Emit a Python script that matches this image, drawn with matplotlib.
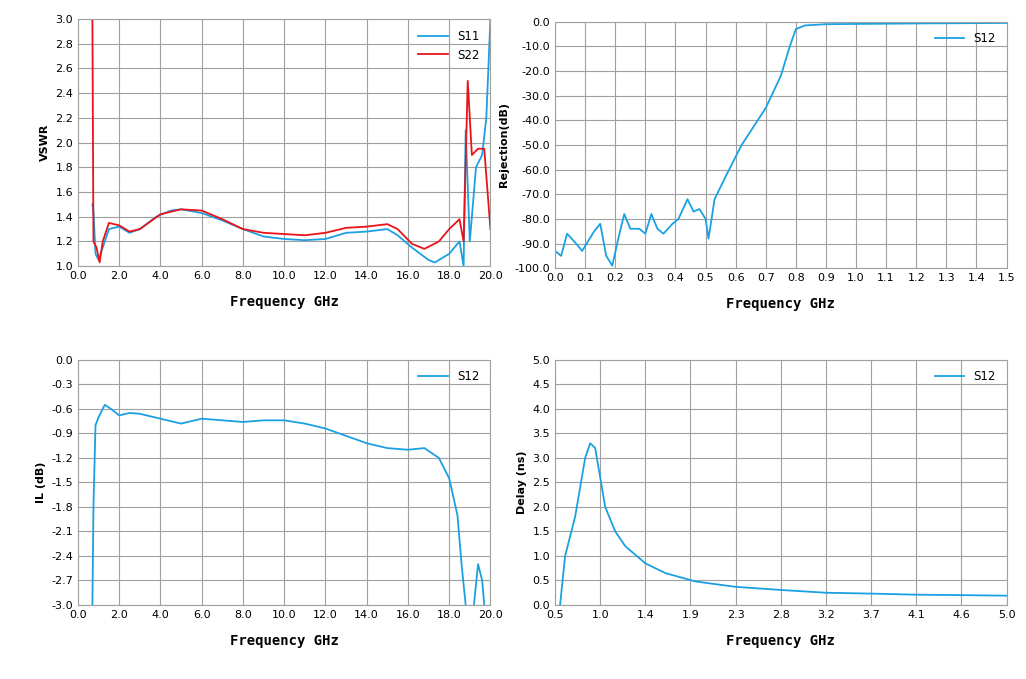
import numpy as np
import matplotlib.pyplot as plt

#-------------------------------------------------------------------------------
#DATA

vswr_f11 = [0.7, 0.75, 0.85, 1.0, 1.2, 1.5, 2.0, 2.5, 3.0, 3.8, 4.5, 5.0, 6.0, 7.0, 8.0,
            9.0, 10.0, 11.0, 12.0, 13.0, 14.0, 15.0, 15.5, 16.2, 17.0, 17.3, 18.0, 18.5,
            18.7, 18.8, 19.0, 19.3, 19.6, 19.8, 20.0]
vswr_s11 = [1.5, 1.45, 1.1, 1.05, 1.15, 1.3, 1.32, 1.27, 1.3, 1.4, 1.45, 1.46, 1.43, 1.37, 1.3,
            1.24, 1.22, 1.21, 1.22, 1.27, 1.28, 1.3, 1.25, 1.15, 1.05, 1.03, 1.1, 1.2,
            1.0, 2.1, 1.2, 1.8, 1.9, 2.2, 3.0]
vswr_f22 = [0.7, 0.75, 0.9, 1.05, 1.2, 1.5, 2.0, 2.5, 3.0, 4.0, 5.0, 6.0, 7.0, 8.0, 9.0,
            10.0, 11.0, 12.0, 13.0, 14.0, 15.0, 15.5, 16.2, 16.8, 17.5, 18.0, 18.5, 18.7,
            18.9, 19.1, 19.4, 19.7, 20.0]
vswr_s22 = [3.0, 1.2, 1.15, 1.03, 1.2, 1.35, 1.33, 1.28, 1.3, 1.42, 1.46, 1.45, 1.38, 1.3, 1.27,
            1.26, 1.25, 1.27, 1.31, 1.32, 1.34, 1.3, 1.18, 1.14, 1.2, 1.3, 1.38, 1.2,
            2.5, 1.9, 1.95, 1.95, 1.3]

rej_f = [0.0, 0.02, 0.04, 0.07, 0.09, 0.13, 0.15, 0.17, 0.19, 0.21, 0.23, 0.25, 0.28, 0.30,
         0.32, 0.34, 0.36, 0.39, 0.41, 0.44, 0.46, 0.48, 0.50, 0.51, 0.53, 0.57, 0.62, 0.70,
         0.75, 0.78, 0.80, 0.83, 0.9, 1.2, 1.5]
rej_s12 = [-93, -95, -86, -90, -93, -85, -82, -95, -99, -88, -78, -84, -84, -86,
           -78, -84, -86, -82, -80, -72, -77, -76, -80, -88, -72, -62, -50, -35,
           -22, -10, -3, -1.5, -1, -0.7, -0.5]

il_f = [0.7, 0.75, 0.85, 1.0, 1.3, 1.6, 2.0, 2.5, 3.0, 4.0, 5.0, 5.5, 6.0, 7.0, 8.0, 9.0,
        10.0, 11.0, 12.0, 13.0, 14.0, 15.0, 16.0, 16.8, 17.5, 18.0, 18.4, 18.6, 18.8,
        np.nan, 19.2, 19.4, 19.6, 19.7]
il_s12 = [-3.0, -1.8, -0.8, -0.7, -0.55, -0.6, -0.68, -0.65, -0.66, -0.72, -0.78, -0.75, -0.72,
          -0.74, -0.76, -0.74, -0.74, -0.78, -0.84, -0.93, -1.02, -1.08, -1.1, -1.08, -1.2,
          -1.45, -1.9, -2.5, -3.0, np.nan, -3.0, -2.5, -2.7, -3.0]

dl_f = [0.55, 0.6, 0.7, 0.8, 0.85, 0.9, 0.95, 1.0, 1.1, 1.2, 1.4, 1.6, 1.9, 2.3, 2.8, 3.2,
        3.7, 4.1, 4.6, 5.0]
dl_s12 = [0.0, 1.0, 1.8, 3.0, 3.3, 3.2, 2.6, 2.0, 1.5, 1.2, 0.85, 0.65, 0.48, 0.37, 0.3, 0.25,
          0.23, 0.21, 0.2, 0.19]
dl_xlabels = ['0.5', '1.0', '1.4', '1.9', '2.3', '2.8', '3.2', '3.7', '4.1', '4.6', '5.0']

#-------------------------------------------------------------------------------
#PLOT

blue = '#1ba1e2'
red = '#e8141a'
xfont = dict(family='DejaVu Sans Mono', weight='bold', size=10)
yfont = dict(weight='bold', size=8)

fig = plt.figure(figsize=(10.26, 6.79), dpi=100)
boxes = [(0.076, 0.608, 0.402, 0.364), (0.541, 0.605, 0.440, 0.363),
         (0.076, 0.109, 0.402, 0.361), (0.541, 0.109, 0.440, 0.361)]
axs = [fig.add_axes(b) for b in boxes]

def fmt(v):
    return '%.1f' % (0.0 if abs(v) < 1e-9 else v)

def style(ax, xt, yt, xl, yl, xlabels=None):
    ax.set_xticks(xt)
    ax.set_xticklabels(xlabels if xlabels else [fmt(v) for v in xt])
    ax.set_yticks(yt)
    ax.set_yticklabels([fmt(v) for v in yt])
    ax.set_xlim(xt[0], xt[-1])
    ax.set_ylim(yt[0], yt[-1])
    ax.grid(True, color='#a0a0a0', lw=0.8)
    ax.tick_params(labelsize=8, length=0)
    ax.set_xlabel(xl, labelpad=10, **xfont)
    ax.set_ylabel(yl, **yfont)
    for s in ax.spines.values():
        s.set_color('#a0a0a0')
    ax.legend(loc='upper right', frameon=False, fontsize=8.5, handlelength=2.5)

ax = axs[0]
ax.plot(vswr_f11, vswr_s11, color=blue, lw=1.3, label='S11')
ax.plot(vswr_f22, vswr_s22, color=red, lw=1.3, label='S22')
style(ax, np.arange(0, 20.1, 2), np.arange(1.0, 3.01, 0.2), 'Frequency GHz', 'VSWR')

ax = axs[1]
ax.plot(rej_f, rej_s12, color=blue, lw=1.3, label='S12')
style(ax, np.arange(0, 1.51, 0.1), np.arange(-100, 0.1, 10), 'Frequency GHz', 'Rejection(dB)')

ax = axs[2]
ax.plot(il_f, il_s12, color=blue, lw=1.3, label='S12')
style(ax, np.arange(0, 20.1, 2), np.linspace(-3.0, 0.0, 11), 'Frequency GHz', 'IL (dB)')

ax = axs[3]
ax.plot(dl_f, dl_s12, color=blue, lw=1.3, label='S12')
style(ax, np.linspace(0.5, 5.0, 11), np.arange(0, 5.01, 0.5), 'Frequency GHz', 'Delay (ns)',
      xlabels=dl_xlabels)

plt.savefig('out.png', dpi=100)
